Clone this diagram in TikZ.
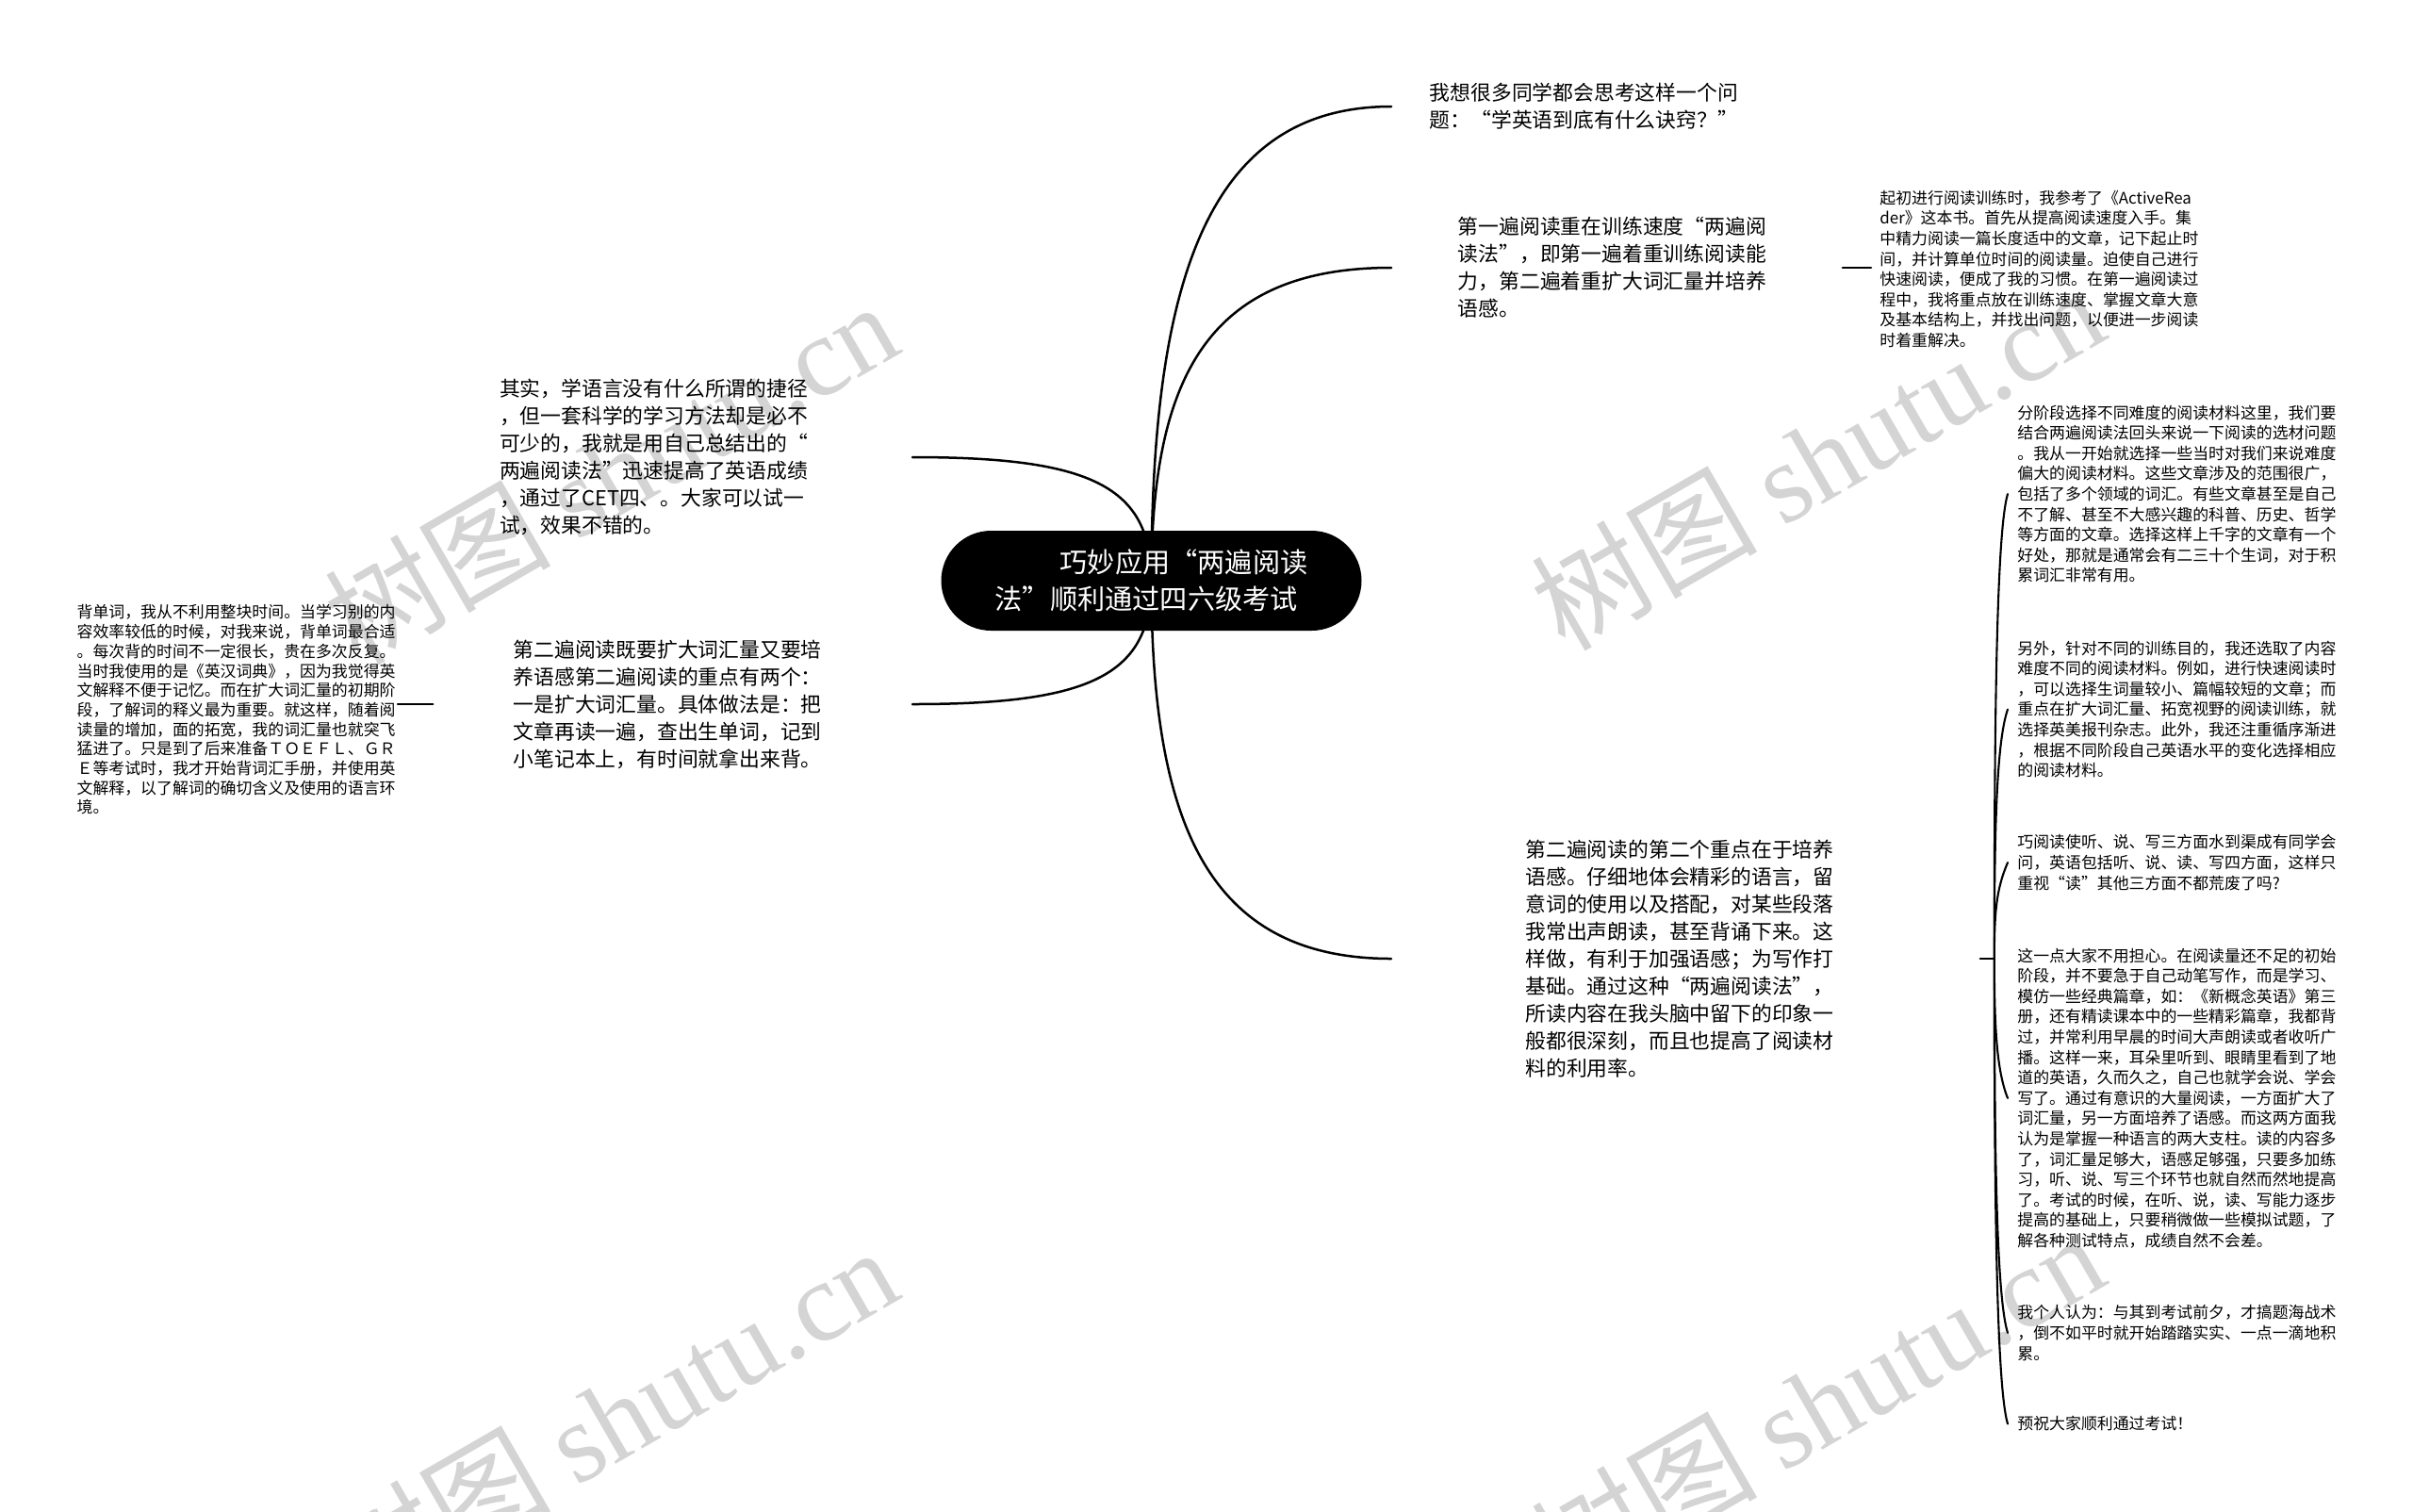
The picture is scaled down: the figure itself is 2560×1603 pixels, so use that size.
\documentclass[tikz,border=0pt]{standalone}
\usepackage{fontspec}
\setmainfont{Noto Sans CJK SC}
\newfontfamily\wmfont{Liberation Serif}
\usetikzlibrary{backgrounds}
\definecolor{wmgray}{RGB}{212,212,212}
\begin{document}
\begin{tikzpicture}[x=0.5pt,y=-0.5pt,
  rootbox/.style={fill=black, text=white, rounded corners=26.5pt, minimum width=223pt, minimum height=53pt, inner sep=0pt, align=left, font=\fontsize{14.6pt}{19.5pt}\selectfont},
  midtext/.style={inner sep=0pt, align=left, font=\fontsize{10.9pt}{14.5pt}\selectfont},
  smalltext/.style={inner ysep=0pt, inner xsep=5pt, align=left, font=\fontsize{8.45pt}{10.8pt}\selectfont},
  wmark/.style={text=wmgray, rotate=30, anchor=base west, inner sep=0pt, font=\fontsize{60pt}{62pt}\selectfont},
  mainconn/.style={line width=1.25pt, line cap=round},
  subconn/.style={line width=1.05pt, line cap=round}]
\useasboundingbox (0,0) rectangle (2560,1603);

% central topic
\node[rootbox] (c) at (1221.5,616) {\hspace*{34.5pt}巧妙应用“两遍阅读\\法”顺利通过四六级考试};

% right branches
\node[midtext, anchor=west, minimum width=204pt] (t1) at (1476,113) {我想很多同学都会思考这样一个问\\题：“学英语到底有什么诀窍？”};
\node[midtext, anchor=west, minimum width=239pt] (t2) at (1476,284) {第一遍阅读重在训练速度“两遍阅\hspace*{5pt}\\读法”，即第一遍着重训练阅读能\\力，第二遍着重扩大词汇量并培养\\语感。};
\node[midtext, anchor=west, minimum width=312pt] (t5) at (1476,1017) {第二遍阅读的第二个重点在于培养\hspace*{6.5pt}\\语感。仔细地体会精彩的语言，留\\意词的使用以及搭配，对某些段落\\我常出声朗读，甚至背诵下来。这\\样做，有利于加强语感；为写作打\\基础。通过这种“两遍阅读法”，\\所读内容在我头脑中留下的印象一\\般都很深刻，而且也提高了阅读材\\料的利用率。};

% left branches
\node[midtext, anchor=east, minimum width=274pt] (l1) at (968,485) {其实，学语言没有什么所谓的捷径\\，但一套科学的学习方法却是必不\\可少的，我就是用自己总结出的“\\两遍阅读法”迅速提高了英语成绩\\，通过了CET四、。大家可以试一\\试，效果不错的。};
\node[midtext, anchor=east, minimum width=254pt] (l2) at (968,747) {第二遍阅读既要扩大词汇量又要培\hspace*{5.5pt}\\养语感第二遍阅读的重点有两个：\\一是扩大词汇量。具体做法是：把\\文章再读一遍，查出生单词，记到\\小笔记本上，有时间就拿出来背。};

% detail nodes
\node[smalltext, anchor=west, inner xsep=4.5pt] (d1) at (1985,285.5) {起初进行阅读训练时，我参考了《ActiveRea\\der》这本书。首先从提高阅读速度入手。集\\中精力阅读一篇长度适中的文章，记下起止时\\间，并计算单位时间的阅读量。迫使自己进行\\快速阅读，便成了我的习惯。在第一遍阅读过\\程中，我将重点放在训练速度、掌握文章大意\\及基本结构上，并找出问题，以便进一步阅读\\时着重解决。};
\node[smalltext, anchor=east, inner xsep=1pt, font=\fontsize{8.45pt}{10.35pt}\selectfont] (ld) at (422,753) {背单词，我从不利用整块时间。当学习别的内\\容效率较低的时候，对我来说，背单词最合适\\。每次背的时间不一定很长，贵在多次反复。\\当时我使用的是《英汉词典》，因为我觉得英\\文解释不便于记忆。而在扩大词汇量的初期阶\\段，了解词的释义最为重要。就这样，随着阅\\读量的增加，面的拓宽，我的词汇量也就突飞\\猛进了。只是到了后来准备ＴＯＥＦＬ、ＧＲ\\Ｅ等考试时，我才开始背词汇手册，并使用英\\文解释，以了解词的确切含义及使用的语言环\\境。};

\node[smalltext, anchor=west] (a) at (2130,524) {分阶段选择不同难度的阅读材料这里，我们要\\结合两遍阅读法回头来说一下阅读的选材问题\\。我从一开始就选择一些当时对我们来说难度\\偏大的阅读材料。这些文章涉及的范围很广，\\包括了多个领域的词汇。有些文章甚至是自己\\不了解、甚至不大感兴趣的科普、历史、哲学\\等方面的文章。选择这样上千字的文章有一个\\好处，那就是通常会有二三十个生词，对于积\\累词汇非常有用。};
\node[smalltext, anchor=west] (b) at (2130,752.5) {另外，针对不同的训练目的，我还选取了内容\\难度不同的阅读材料。例如，进行快速阅读时\\，可以选择生词量较小、篇幅较短的文章；而\\重点在扩大词汇量、拓宽视野的阅读训练，就\\选择英美报刊杂志。此外，我还注重循序渐进\\，根据不同阶段自己英语水平的变化选择相应\\的阅读材料。};
\node[smalltext, anchor=west] (cc) at (2130,915) {巧阅读使听、说、写三方面水到渠成有同学会\\问，英语包括听、说、读、写四方面，这样只\\重视“读”其他三方面不都荒废了吗?};
\node[smalltext, anchor=west] (dd) at (2130,1165) {这一点大家不用担心。在阅读量还不足的初始\\阶段，并不要急于自己动笔写作，而是学习、\\模仿一些经典篇章，如：《新概念英语》第三\\册，还有精读课本中的一些精彩篇章，我都背\\过，并常利用早晨的时间大声朗读或者收听广\\播。这样一来，耳朵里听到、眼睛里看到了地\\道的英语，久而久之，自己也就学会说、学会\\写了。通过有意识的大量阅读，一方面扩大了\\词汇量，另一方面培养了语感。而这两方面我\\认为是掌握一种语言的两大支柱。读的内容多\\了，词汇量足够大，语感足够强，只要多加练\\习，听、说、写三个环节也就自然而然地提高\\了。考试的时候，在听、说，读、写能力逐步\\提高的基础上，只要稍微做一些模拟试题，了\\解各种测试特点，成绩自然不会差。};
\node[smalltext, anchor=west] (ee) at (2130,1414) {我个人认为：与其到考试前夕，才搞题海战术\\，倒不如平时就开始踏踏实实、一点一滴地积\\累。};
\node[smalltext, anchor=west] (ff) at (2130,1510.5) {预祝大家顺利通过考试！};

\coordinate (j) at ([xshift=7.5pt]t5.east);

\begin{scope}[on background layer]
  \fill[white] (0,0) rectangle (2560,1603);
  % watermarks
  \node[wmark] (w1) at (380,708) {树图 {\wmfont shutu.cn}};
  \node[wmark] (w2) at (1660,693) {树图 {\wmfont shutu.cn}};
  \node[wmark] (w3) at (380,1711) {树图 {\wmfont shutu.cn}};
  \node[wmark] (w4) at (1660,1696) {树图 {\wmfont shutu.cn}};
  % main connectors
  \draw[mainconn] (c.center) .. controls +(0,-316) and +(-196,0) .. (t1.west);
  \draw[mainconn] (c.center) .. controls +(0,-214) and +(-196,0) .. (t2.west);
  \draw[mainconn] (c.center) .. controls +(0,255) and +(-196,0) .. (t5.west);
  \draw[mainconn] (c.center) .. controls +(0,-100) and +(190,0) .. (l1.east);
  \draw[mainconn] (c.center) .. controls +(0,100) and +(190,0) .. (l2.east);
  % short connectors
  \draw[mainconn] (t2.east) -- (t2.east -| d1.west);
  \draw[mainconn] (l2.west) -- (l2.west -| ld.east);
  \draw[mainconn] (t5.east) -- (j);
  % tree connectors
  \draw[subconn] (j) .. controls +(0,-250) and +(-12,40) .. (a.west);
  \draw[subconn] (j) .. controls +(0,-135) and +(-12,35) .. (b.west);
  \draw[subconn] (j) .. controls +(0,-50) and +(-12,28) .. (cc.west);
  \draw[subconn] (j) .. controls +(0,70) and +(-12,-30) .. (dd.west);
  \draw[subconn] (j) .. controls +(0,200) and +(-12,-38) .. (ee.west);
  \draw[subconn] (j) .. controls +(0,250) and +(-12,-40) .. (ff.west);
\end{scope}
\end{tikzpicture}
\end{document}
